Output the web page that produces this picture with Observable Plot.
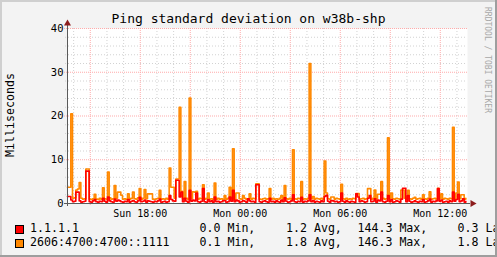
<!DOCTYPE html>
<html><head><meta charset="utf-8">
<script src="https://cdn.jsdelivr.net/npm/d3@7"></script>
<script src="https://cdn.jsdelivr.net/npm/@observablehq/plot@0.6"></script>
<style>
body{margin:0;background:#fff}
#wrap{position:relative;width:497px;height:257px;background:#f3f3f3;overflow:hidden;font-family:"DejaVu Sans Mono",monospace;color:#000}
#wrap svg{position:absolute;left:0;top:0}
.t{position:absolute;white-space:pre;line-height:1}
.b{position:absolute}
</style></head><body><div id="wrap"></div>
<script>
const title = "Ping standard deviation on w38b-shp";
const yLabel = "Milliseconds";
const watermark = "RRDTOOL / TOBI OETIKER";
const seriesNames = ["1.1.1.1", "2606:4700:4700::1111"];
const seriesColors = ["#ff0000", "#ff8800"];
const statMin = ["0.0 Min,", "0.1 Min,"];
const statAvg = ["1.2 Avg,", "1.8 Avg,"];
const statMax = ["144.3 Max,", "146.3 Max,"];
const statLast = ["0.3 Last", "1.8 Last"];
const startTime = new Date("2023-01-01T13:38:00Z");
const stepMinutes = 6;
const yTicks = [0, 10, 20, 30, 40];
const yMinor = [2, 4, 6, 8, 12, 14, 16, 18, 22, 24, 26, 28, 32, 34, 36, 38];

const red = [
1.6,1.6,0.8,0.4,0.5,2.6,2.6,0.6,0.3,0.4,
0.5,7.4,7.4,0.4,0.3,0.6,0.9,0.4,0.3,0.5,
0.4,1.2,0.5,0.3,1.5,0.6,0.4,0.3,1.0,0.5,
0.8,0.6,0.4,0.3,0.5,0.4,0.9,0.3,0.5,0.7,
0.4,0.3,0.6,1.4,0.4,0.5,0.8,0.3,0.6,0.5,
0.4,0.3,0.5,0.4,0.6,1.0,0.3,0.4,0.5,0.3,
0.4,1.8,0.9,0.6,0.5,5.3,5.3,1.5,2.6,0.4,
1.2,0.5,0.3,3.0,0.5,0.8,0.6,2.4,0.4,0.3,
0.5,3.4,0.4,0.3,0.9,0.4,0.6,0.3,1.5,0.4,
0.5,0.3,0.4,0.6,0.7,0.3,0.4,1.5,0.5,3.0,
0.4,0.8,0.6,0.3,0.4,0.7,0.5,0.3,1.1,0.6,
0.4,0.5,0.3,4.3,4.3,0.4,0.3,0.5,0.6,0.4,
0.3,1.2,0.4,0.5,0.3,0.6,0.4,0.3,0.8,0.4,
1.3,0.5,0.3,0.4,0.6,2.0,0.4,0.3,0.5,0.4,
1.4,0.3,0.5,0.4,0.6,2.0,0.4,0.7,0.3,0.5,
0.4,0.3,0.6,0.4,1.6,1.9,0.5,0.3,0.7,0.6,
0.4,0.5,0.3,0.4,2.4,0.5,0.3,0.6,0.4,0.3,
0.5,0.4,0.3,2.2,1.5,0.4,0.6,0.5,0.3,0.4,
1.2,1.8,0.4,0.5,1.1,0.3,0.8,0.6,2.6,0.4,
0.3,0.5,1.8,0.4,0.9,0.3,0.4,0.6,0.5,0.3,
1.0,3.5,3.5,0.4,1.8,0.5,0.3,0.4,0.6,0.4,
0.3,0.5,0.4,0.9,0.3,0.4,0.6,1.0,0.3,0.5,
0.4,0.6,3.4,0.5,0.8,0.3,0.4,0.5,0.3,0.6,
0.4,2.6,0.5,0.9,2.1,0.4,0.6,1.1,0.3,0.5
];
const orange = [
3.7,3.7,20.5,1.2,1.3,3.1,3.3,4.8,1.2,1.0,
1.1,7.9,7.9,1.0,0.9,1.1,2.1,1.0,0.9,1.2,
1.0,3.6,1.1,1.0,7.2,1.3,1.0,1.1,4.1,1.2,
2.6,2.6,1.9,1.0,1.1,0.9,2.2,1.0,1.2,2.6,
1.1,1.0,1.3,3.4,1.0,1.2,3.2,1.1,2.2,2.2,
2.2,1.0,0.9,1.1,1.2,3.0,1.0,1.1,0.9,1.2,
1.0,8.1,3.7,3.7,1.2,5.6,5.6,22.0,2.8,1.1,
5.0,1.2,1.0,24.1,1.1,2.7,2.6,2.8,1.0,1.2,
1.1,4.3,1.0,1.2,2.4,1.0,1.1,0.9,4.7,1.0,
1.2,1.0,1.1,0.9,1.8,1.0,1.2,3.7,1.1,12.5,
1.0,2.4,2.4,1.1,1.0,1.8,1.2,1.0,1.1,2.2,
1.0,1.2,1.1,4.5,4.5,1.0,0.9,1.1,1.2,1.0,
1.1,3.4,1.0,1.2,1.0,1.1,0.9,1.2,1.8,1.0,
4.1,1.1,1.0,1.2,1.0,12.3,1.1,1.0,1.2,1.1,
5.0,1.0,1.1,1.0,1.2,32.0,1.1,1.6,1.0,1.2,
1.1,1.0,1.2,1.0,9.7,2.4,1.1,1.0,1.5,1.5,
1.0,1.2,1.1,1.0,4.4,1.1,1.0,1.2,0.9,1.1,
1.0,1.2,1.1,2.3,2.3,1.0,1.1,1.2,1.0,1.1,
3.4,3.4,1.0,1.2,3.1,1.1,2.1,2.1,5.0,1.2,
1.0,1.1,15.0,1.2,2.4,1.1,1.0,1.2,1.1,1.0,
3.1,3.1,1.2,1.0,3.0,1.1,1.0,1.2,1.4,1.0,
1.1,1.2,1.0,2.0,1.1,1.0,1.2,2.7,1.0,1.1,
1.2,1.0,3.5,1.1,2.2,1.0,1.2,1.1,1.0,1.2,
1.1,17.4,1.0,2.4,4.9,1.1,2.0,2.0,1.0,1.2
];

const endTime = new Date(+startTime + 24 * 3600e3);
const times = red.map((_, i) => new Date(+startTime + i * stepMinutes * 60e3));
const dataR = red.map((v, i) => ({t: times[i], v}));
const dataO = orange.map((v, i) => ({t: times[i], v}));
const hours = d3.utcHour.range(startTime, endTime);
const minorX = hours.filter(h => h.getUTCHours() % 3 !== 0);
const majorX = hours.filter(h => h.getUTCHours() % 3 === 0);
const labelX = hours.filter(h => h.getUTCHours() % 6 === 0);

const gridGray = "#d2d2d2", gridRed = "#ffabab", axisCol = "#5a5a5a", arrowCol = "#8c1c1c";

const chart = Plot.plot({
  width: 497, height: 222,
  marginTop: 28, marginBottom: 19, marginLeft: 67, marginRight: 30,
  style: {background: "transparent", fontFamily: "DejaVu Sans Mono", fontSize: "10px", color: "#000", overflow: "visible"},
  x: {type: "utc", domain: [startTime, endTime], label: null},
  y: {domain: [0, 40], label: null},
  marks: [
    Plot.frame({fill: "#ffffff", stroke: "none"}),
    Plot.ruleX(minorX, {stroke: gridGray, strokeDasharray: "1,2", insetBottom: -2}),
    Plot.ruleY(yMinor, {stroke: gridGray, strokeDasharray: "1,2", insetLeft: -2}),
    Plot.ruleX(majorX, {stroke: gridRed, strokeDasharray: "1,1", insetBottom: -3}),
    Plot.ruleY(yTicks.slice(1), {stroke: gridRed, strokeDasharray: "1,1", insetLeft: -3}),
    Plot.line(dataO, {x: "t", y: "v", curve: "step-after", stroke: seriesColors[1], strokeWidth: 1.6}),
    Plot.line(dataR, {x: "t", y: "v", curve: "step-after", stroke: seriesColors[0], strokeWidth: 1.6}),
    Plot.ruleX([startTime], {stroke: axisCol, insetTop: -3, insetBottom: -3}),
    Plot.ruleY([0], {stroke: axisCol, insetLeft: -3, insetRight: -3}),
    Plot.dot([{t: startTime, v: 40}], {x: "t", y: "v", symbol: "triangle", r: 2.6, fill: arrowCol, stroke: "none", dy: -5}),
    Plot.dot([{t: endTime, v: 0}], {x: "t", y: "v", symbol: "triangle", r: 2.6, fill: arrowCol, stroke: "none", rotate: 90, dx: 5}),
    Plot.axisX({ticks: labelX, tickFormat: d3.utcFormat("%a %H:%M"), tickSize: 0, tickPadding: 6, fontSize: 10, label: null}),
    Plot.axisY({ticks: yTicks, tickSize: 0, tickPadding: 4, fontSize: 10.5, label: null})
  ]
});

const wrap = document.getElementById("wrap");
wrap.appendChild(chart);

function addText(txt, css) {
  const d = document.createElement("div");
  d.className = "t";
  d.textContent = txt;
  Object.assign(d.style, css);
  wrap.appendChild(d);
  return d;
}
function addBox(css) {
  const d = document.createElement("div");
  d.className = "b";
  Object.assign(d.style, css);
  wrap.appendChild(d);
  return d;
}

addText(title, {left: "0px", top: "12px", width: "497px", textAlign: "center", fontSize: "13px"});
addText(yLabel, {left: "-39px", top: "109px", width: "100px", height: "12px", textAlign: "center", fontSize: "11.6px", transform: "rotate(-90deg)"});
addText(watermark, {left: "427px", top: "56px", width: "120px", textAlign: "center", fontSize: "8px", color: "#a8a8a8", transform: "rotate(90deg)"});

const baselines = [233.3, 247.3];
const fs = 11.6;
seriesNames.forEach((name, i) => {
  const top = baselines[i] - 0.846 * fs;
  addBox({left: "15px", top: (baselines[i] - 8.5) + "px", width: "9px", height: "9px", background: seriesColors[i], border: "1px solid #000", boxSizing: "border-box"});
  addText(name, {left: "30px", top: top + "px", fontSize: fs + "px"});
  addText(statMin[i], {left: "199.5px", top: top + "px", fontSize: fs + "px"});
  addText(statAvg[i], {left: "286px", top: top + "px", fontSize: fs + "px"});
  addText(statMax[i], {left: "357.5px", top: top + "px", fontSize: fs + "px"});
  addText(statLast[i], {left: "457.5px", top: top + "px", fontSize: fs + "px"});
});

addBox({left: "0px", top: "0px", width: "497px", height: "2px", background: "#cfcfcf"});
addBox({left: "0px", top: "0px", width: "2px", height: "257px", background: "#cfcfcf"});
addBox({left: "0px", top: "255px", width: "497px", height: "2px", background: "#9e9e9e"});
addBox({left: "495px", top: "0px", width: "2px", height: "257px", background: "#9e9e9e"});
</script></body></html>
